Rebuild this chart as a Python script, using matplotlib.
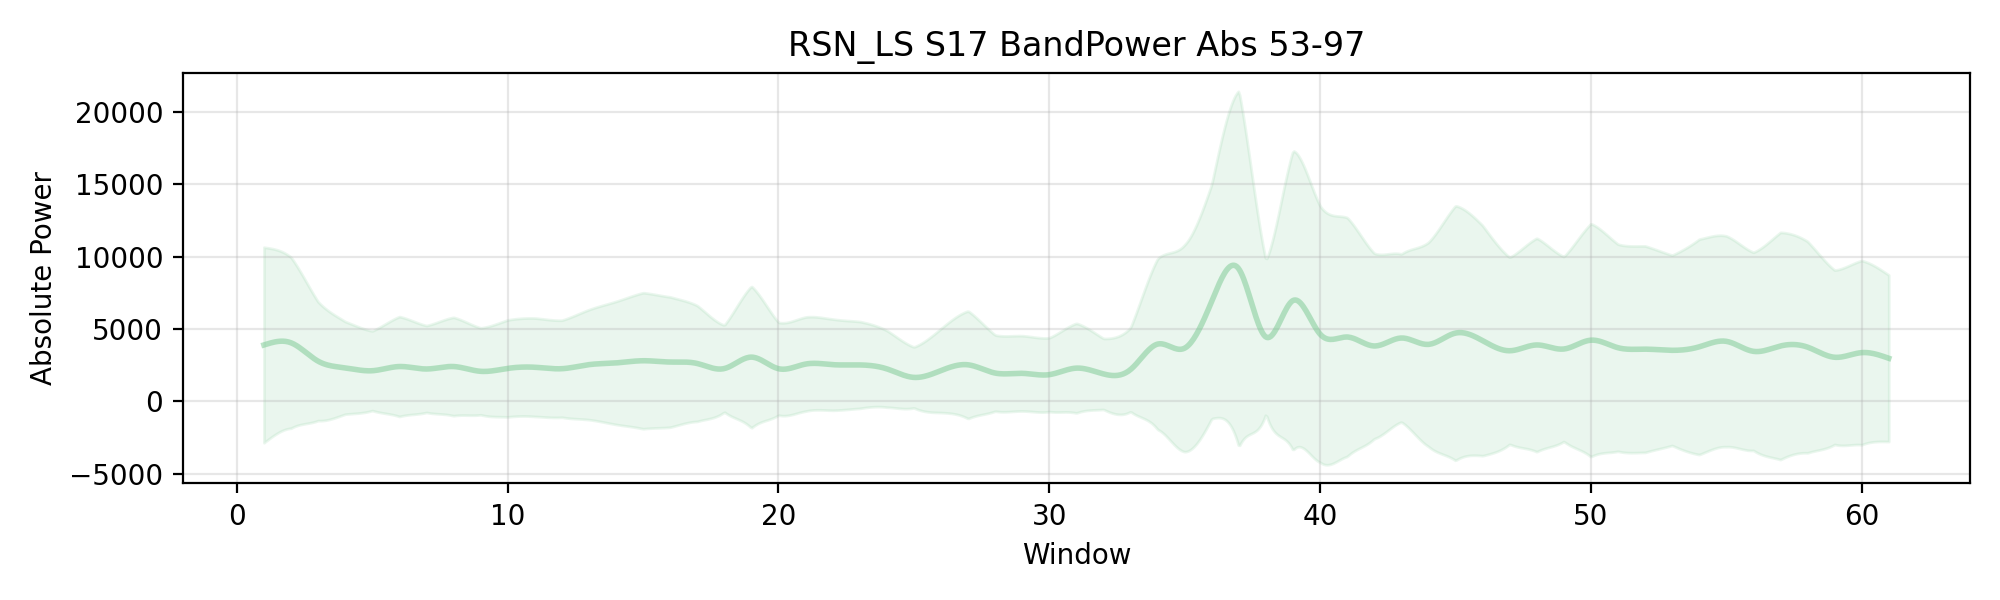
"""
Band power across windows: smoothed mean with +/- 1 SD band.
"""
import numpy as np
import matplotlib
matplotlib.use('Agg')
import matplotlib.pyplot as plt

plt.rcParams.update({
    'font.size': 10,
    'figure.dpi': 200,
    'savefig.dpi': 200,
})

TITLE = 'RSN_LS S17 BandPower Abs 53-97'
COLOR = '#78c890'

windows = np.arange(1, 62)

mean_power = [
    3900, 4050, 2780, 2320, 2120, 2410, 2240, 2410, 2080, 2280,
    2360, 2260, 2540, 2660, 2810, 2720, 2620, 2270, 3060, 2260,
    2580, 2540, 2520, 2250, 1660, 2130, 2530, 1960, 1940, 1850,
    2300, 1900, 2200, 3960, 3680, 6920, 9150, 4450, 6970, 4650,
    4450, 3830, 4380, 3940, 4720, 4200, 3500, 3900, 3620, 4230,
    3710, 3610, 3530, 3770, 4150, 3460, 3830, 3750, 3050, 3370,
    2980,
]

std_power = [
    6750, 5900, 4100, 3200, 2750, 3450, 3000, 3400, 3000, 3350,
    3400, 3350, 3800, 4250, 4700, 4500, 4000, 3000, 4900, 3200,
    3250, 3150, 3000, 2650, 2100, 2900, 3720, 2630, 2600, 2550,
    3100, 2450, 2900, 5900, 7150, 8100, 12300, 5300, 10350, 8850,
    8250, 6400, 5800, 7050, 8800, 7950, 6450, 7380, 6380, 8050,
    7150, 7130, 6570, 7440, 7280, 6840, 7850, 7300, 6020, 6360,
    5750,
]


def natural_spline(x, y, xs):
    # plain natural cubic spline, used only for drawing the smooth curve
    x = np.asarray(x, float)
    y = np.asarray(y, float)
    n = len(x)
    h = np.diff(x)
    A = np.zeros((n, n))
    b = np.zeros(n)
    A[0, 0] = A[-1, -1] = 1.0
    for i in range(1, n - 1):
        A[i, i - 1] = h[i - 1]
        A[i, i] = 2 * (h[i - 1] + h[i])
        A[i, i + 1] = h[i]
        b[i] = 3 * ((y[i + 1] - y[i]) / h[i] - (y[i] - y[i - 1]) / h[i - 1])
    c = np.linalg.solve(A, b)
    idx = np.clip(np.searchsorted(x, xs) - 1, 0, n - 2)
    dx = xs - x[idx]
    bb = (y[idx + 1] - y[idx]) / h[idx] - h[idx] * (2 * c[idx] + c[idx + 1]) / 3
    dd = (c[idx + 1] - c[idx]) / (3 * h[idx])
    return y[idx] + bb * dx + c[idx] * dx ** 2 + dd * dx ** 3


xs = np.linspace(windows[0], windows[-1], 1200)
mean_s = natural_spline(windows, mean_power, xs)
std_s = np.interp(xs, windows, std_power)

fig, ax = plt.subplots(figsize=(10, 3))
ax.fill_between(xs, mean_s - std_s, mean_s + std_s, color=COLOR, alpha=0.15)
ax.plot(xs, mean_s, color=COLOR, alpha=0.5, linewidth=2)

ax.set_title(TITLE)
ax.set_xlabel('Window')
ax.set_ylabel('Absolute Power')
ax.grid(True, alpha=0.3)
fig.tight_layout()
fig.savefig('out.png')
plt.close(fig)
